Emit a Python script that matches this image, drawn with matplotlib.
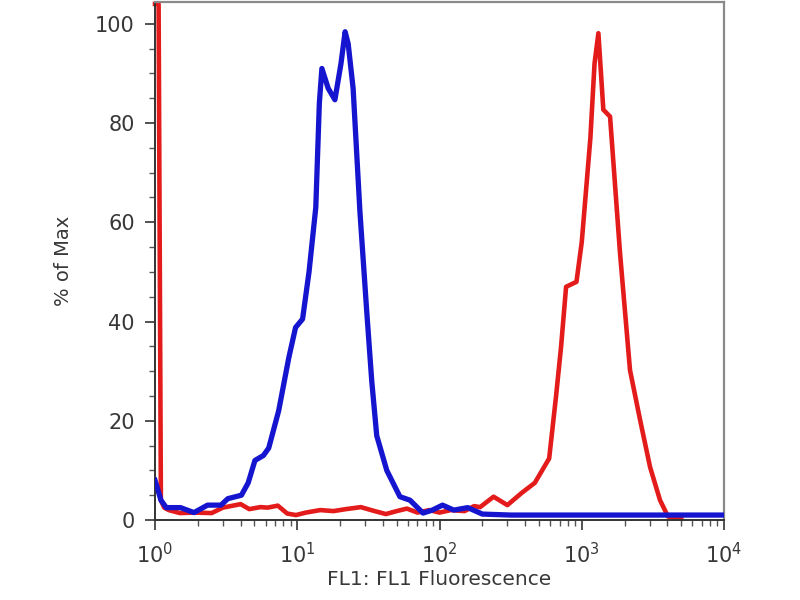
#!/usr/bin/env python3

import matplotlib
matplotlib.use("Agg")
import matplotlib.pyplot as plt
from matplotlib.ticker import LogLocator, MultipleLocator, LogFormatterSciNotation

# Histogram traces (FL1 channel value, % of max)
blue_x = [1.0, 1.05, 1.1, 1.2, 1.51, 1.88, 2.34, 2.91, 3.25, 4.05, 4.52, 5.04,
          5.78, 6.3, 7.4, 8.72, 9.73, 10.9, 12.1, 13.5, 14.3, 14.9, 16.5, 18.4,
          20.3, 21.7, 22.8, 24.7, 27.6, 30.8, 33.4, 36.2, 42.6, 52.7, 62, 76.6,
          89, 105, 126, 158, 200, 316, 1000, 3160, 10000]
blue_y = [8, 6, 4, 2.5, 2.5, 1.5, 3, 3, 4.3, 5, 7.5, 12,
          13, 14.5, 22, 32.7, 38.8, 40.5, 50, 63, 84, 91, 87, 84.7,
          92, 98.4, 96, 87, 62, 42, 28, 17, 10, 4.7, 4, 1.4,
          2, 3, 2, 2.5, 1.2, 1, 1, 1, 1]

red_x = [1.0, 1.06, 1.1, 1.16, 1.25, 1.5, 1.9, 2.5, 3.0, 4.0, 4.6, 5.5, 6.2, 7.3,
         8.5, 9.8, 11.5, 14.5, 18, 22, 28, 35, 42, 50, 59, 70, 85, 100, 120,
         150, 175, 193, 240, 300, 376, 468, 590, 660, 716, 776, 918, 1000,
         1150, 1230, 1309, 1418, 1581, 1858, 2184, 2570, 3020, 3550, 4040,
         5000]
red_y = [104, 104, 4, 2.5, 2, 1.4, 1.5, 1.4, 2.5, 3.2, 2.2, 2.6, 2.5, 2.9,
         1.3, 1, 1.5, 2, 1.8, 2.2, 2.6, 1.8, 1.2, 1.8, 2.3, 1.5, 2, 1.5, 2,
         1.8, 2.8, 2.6, 4.7, 3, 5.4, 7.5, 12.4, 25, 35, 47, 48, 56,
         77, 92, 98.1, 82.7, 81.3, 53.8, 30.2, 20.2, 10.7, 4, 0.7,
         0.3]

y_ticks = [0, 20, 40, 60, 80, 100]

text_color = '#383838'
plt.rcParams['font.family'] = ['DejaVu Sans']

fig = plt.figure(figsize=(8, 6), dpi=100)
ax = fig.add_axes([0.19375, 0.1333, 0.71125, 0.8634])

ax.plot(red_x, red_y, color='#e41b1b', linewidth=3.3, solid_joinstyle='round',
        zorder=2, clip_on=False)
ax.plot(blue_x, blue_y, color='#1515cf', linewidth=3.8, solid_joinstyle='round', zorder=3)

ax.set_xscale('log')
ax.set_xlim(1, 1e4)
ax.set_ylim(0, 104.4)

ax.xaxis.set_major_locator(LogLocator(base=10, numticks=10))
ax.xaxis.set_minor_locator(LogLocator(base=10, subs=range(2, 10), numticks=50))
ax.xaxis.set_major_formatter(LogFormatterSciNotation())
ax.set_yticks(y_ticks)
ax.yaxis.set_minor_locator(MultipleLocator(5))

ax.tick_params(which='major', direction='out', length=7.5, width=1.3,
               color='#444444', labelsize=15, labelcolor=text_color, pad=7)
ax.tick_params(which='minor', direction='out', length=4, width=1.0, color='#555555')
ax.tick_params(axis='x', which='major', pad=8)

for side in ['left', 'bottom']:
    ax.spines[side].set_color('#333333')
    ax.spines[side].set_linewidth(1.4)
for side in ['top', 'right']:
    ax.spines[side].set_color('#8a8a8a')
    ax.spines[side].set_linewidth(1.6)

ax.set_xlabel('FL1: FL1 Fluorescence', fontsize=14.5, color=text_color, labelpad=2)
ax.set_ylabel('% of Max', fontsize=14, color=text_color, labelpad=16)

fig.savefig('out.png', dpi=100)
